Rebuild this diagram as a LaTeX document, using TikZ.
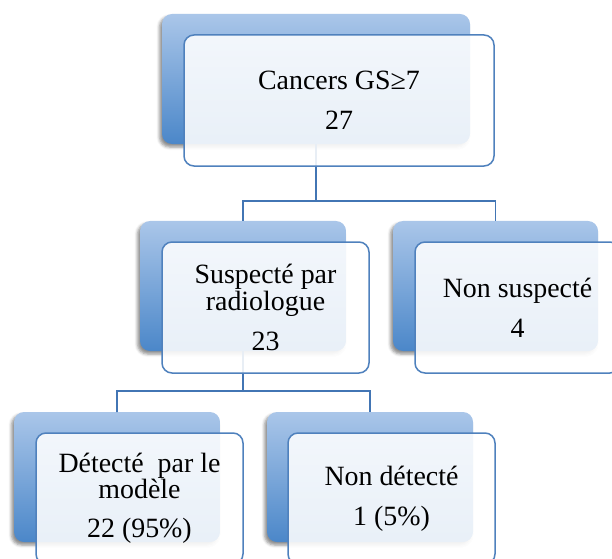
\documentclass[tikz,border=0pt]{standalone}
\usepackage{fontspec}
\setmainfont{Liberation Serif}
\usetikzlibrary{shadows.blur}
\definecolor{backtop}{HTML}{AAC6E9}
\definecolor{backbot}{HTML}{4B87C9}
\definecolor{frontline}{HTML}{4F81BD}
\definecolor{connline}{HTML}{4275B4}
\tikzset{
  backbox/.style={rectangle, rounded corners=10bp, inner sep=0pt, outer sep=0pt,
    top color=backtop, bottom color=backbot, anchor=north west,
    minimum width=206bp, minimum height=130bp,
    blur shadow={shadow xshift=-2.5bp, shadow yshift=-3bp, shadow blur radius=3bp, shadow opacity=45}},
  frontbox/.style={rectangle, rounded corners=10bp, inner sep=0pt, outer sep=0pt,
    draw=frontline, line width=1.5bp, fill=white, fill opacity=0.88, text opacity=1,
    anchor=north west, minimum width=207bp, minimum height=131bp,
    align=center, font=\fontsize{28}{25}\selectfont},
  conn/.style={draw=connline, line width=1.8bp}
}
\begin{document}
\begin{tikzpicture}[x=1bp, y=-1bp]
\useasboundingbox (0,0) rectangle (612,559);
\clip (0,0) rectangle (612,559);
% back boxes
\node[backbox, minimum width=308bp] (b1) at (162,14) {};
\node[backbox] (b2) at (140,221) {};
\node[backbox, minimum width=205bp] (b3) at (393,221) {};
\node[backbox] (b4) at (14,412) {};
\node[backbox] (b5) at (267,412) {};
% connectors
\coordinate (j1) at (316,201);
\coordinate (j2) at (243,391);
\draw[conn] (b1.south) -- (j1) -| (b2.north);
\draw[conn] (j1) -| (b3.north);
\draw[conn] (b2.south) -- (j2) -| (b4.north);
\draw[conn] (j2) -| (b5.north);
% front boxes
\node[frontbox, minimum width=310bp] (f1) at (184,35) {Cancers GS≥7\\[15bp]27};
\node[frontbox] (f2) at (162,242) {Suspecté par\\radiologue\\[15bp]23};
\node[frontbox, minimum width=205bp] (f3) at (415,242) {Non suspecté\\[15bp]4};
\node[frontbox] (f4) at (36,433) {Détecté~ par le\\modèle\\[14bp]22 (95\%)};
\node[frontbox] (f5) at (288,433) {Non détecté\\[15bp]1 (5\%)};
\end{tikzpicture}
\end{document}
